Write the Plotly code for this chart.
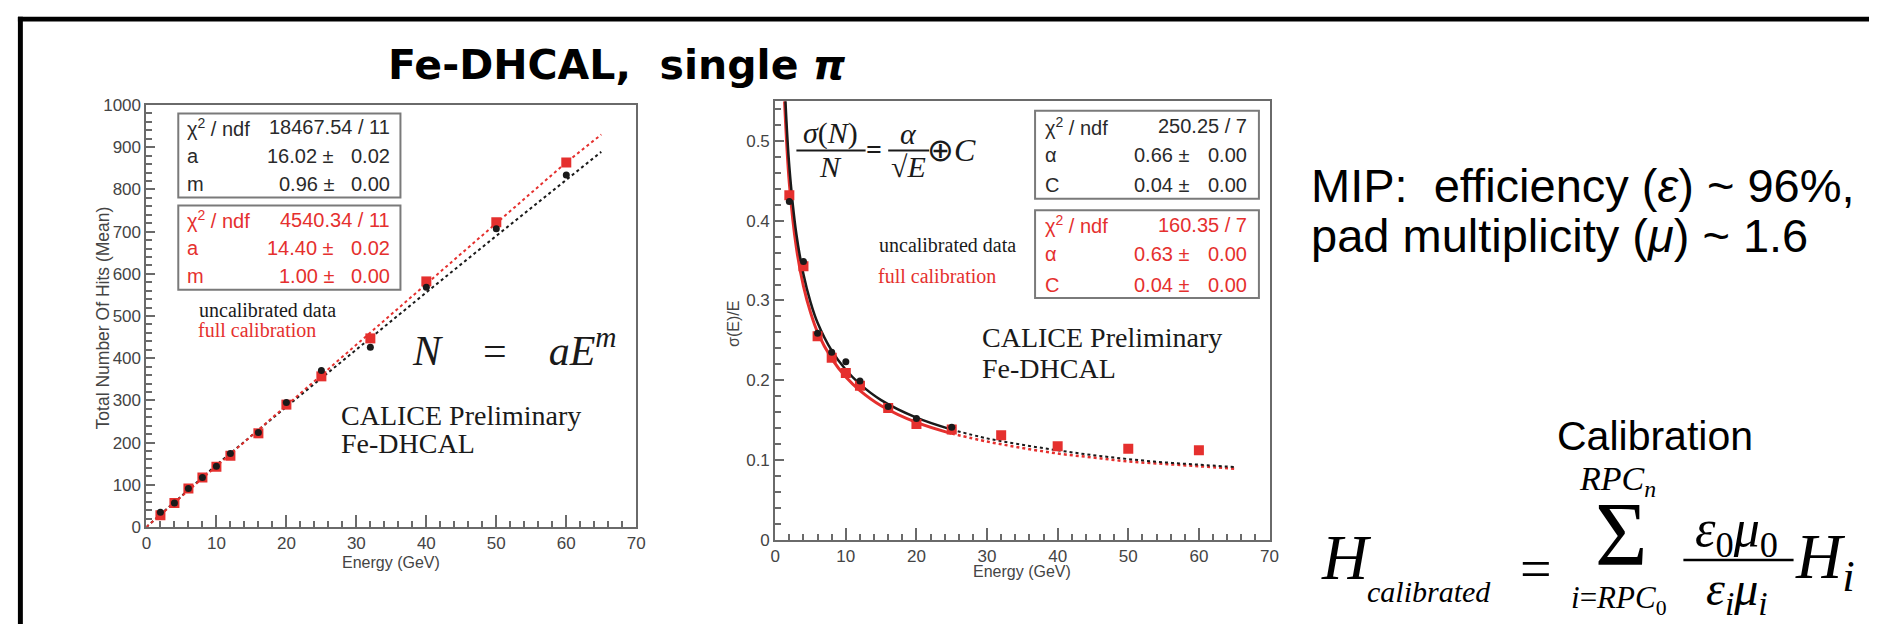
import plotly.graph_objects as go

# ---------------- data ----------------
energy_left = [2, 4, 6, 8, 10, 12, 16, 20, 25, 32, 40, 50, 60]
hits_uncal = [35, 57, 91, 117, 144, 174, 224, 295, 371, 426, 568, 707, 834]
hits_cal = [28, 57, 91, 117, 143, 169, 222, 290, 357, 447, 582, 722, 864]

fit_left_e = [0, 10, 20, 30, 40, 50, 60, 65]
fit_left_uncal = [0, 147, 285, 421, 556, 690, 823, 889]
fit_left_cal = [0, 144, 288, 432, 576, 720, 864, 930]

energy_res_uncal = [2, 4, 6, 8, 10, 12, 16, 20, 25]
res_uncal = [0.424, 0.349, 0.259, 0.235, 0.223, 0.199, 0.167, 0.152, 0.141]
energy_res_cal = [2, 4, 6, 8, 10, 12, 16, 20, 25, 32, 40, 50, 60]
res_cal = [0.432, 0.343, 0.255, 0.228, 0.209, 0.193, 0.165, 0.145, 0.138, 0.131, 0.117, 0.114, 0.112]

curve_uncal_e = [1.45, 2, 3, 4, 5, 6, 8, 10, 12, 15, 20, 25]
curve_uncal = [0.55, 0.468, 0.383, 0.333, 0.298, 0.272, 0.237, 0.213, 0.195, 0.175, 0.153, 0.138]
curve_cal_e = [1.32, 2, 3, 4, 5, 6, 8, 10, 12, 15, 20, 25]
curve_cal = [0.55, 0.447, 0.366, 0.318, 0.285, 0.260, 0.227, 0.204, 0.187, 0.168, 0.147, 0.133]
ext_e = [25, 30, 35, 40, 45, 50, 55, 60, 65]
ext_uncal = [0.138, 0.127, 0.119, 0.112, 0.106, 0.101, 0.097, 0.094, 0.091]
ext_cal = [0.133, 0.123, 0.115, 0.108, 0.103, 0.098, 0.095, 0.092, 0.089]

stats_left_uncal = [["χ<sup>2</sup> / ndf", "18467.54 / 11", ""], ["a", "16.02 ±", "0.02"], ["m", "0.96 ±", "0.00"]]
stats_left_cal = [["χ<sup>2</sup> / ndf", "4540.34 / 11", ""], ["a", "14.40 ±", "0.02"], ["m", "1.00 ±", "0.00"]]
stats_right_uncal = [["χ<sup>2</sup> / ndf", "250.25 / 7", ""], ["α", "0.66 ±", "0.00"], ["C", "0.04 ±", "0.00"]]
stats_right_cal = [["χ<sup>2</sup> / ndf", "160.35 / 7", ""], ["α", "0.63 ±", "0.00"], ["C", "0.04 ±", "0.00"]]

# ---------------- style ----------------
W, H = 1878, 634
SANS = "Liberation Sans, Arial, sans-serif"
SERIF = "Liberation Serif, Times New Roman, serif"
BLACK = "#1a1a1a"
RED = "#e5302e"
FRAME = "#6a6a6a"
LABEL = "#444444"


def px(x):
    return x / W


def py(y):
    return 1 - y / H


fig = go.Figure()

# left plot
fig.add_trace(go.Scatter(x=fit_left_e, y=fit_left_uncal, mode="lines",
                         line=dict(color=BLACK, width=2, dash="dot"), xaxis="x", yaxis="y"))
fig.add_trace(go.Scatter(x=fit_left_e, y=fit_left_cal, mode="lines",
                         line=dict(color=RED, width=2, dash="dot"), xaxis="x", yaxis="y"))
fig.add_trace(go.Scatter(x=energy_left, y=hits_cal, mode="markers",
                         marker=dict(symbol="square", size=10, color=RED), xaxis="x", yaxis="y"))
fig.add_trace(go.Scatter(x=energy_left, y=hits_uncal, mode="markers",
                         marker=dict(symbol="circle", size=7, color=BLACK), xaxis="x", yaxis="y"))

# right plot
fig.add_trace(go.Scatter(x=ext_e, y=ext_cal, mode="lines", line=dict(color=RED, width=2.5, dash="dot", shape="spline"),
                         xaxis="x2", yaxis="y2"))
fig.add_trace(go.Scatter(x=ext_e, y=ext_uncal, mode="lines", line=dict(color=BLACK, width=2, dash="dot", shape="spline"),
                         xaxis="x2", yaxis="y2"))
fig.add_trace(go.Scatter(x=curve_cal_e, y=curve_cal, mode="lines", line=dict(color=RED, width=3, shape="spline"),
                         xaxis="x2", yaxis="y2"))
fig.add_trace(go.Scatter(x=curve_uncal_e, y=curve_uncal, mode="lines", line=dict(color=BLACK, width=2.5, shape="spline"),
                         xaxis="x2", yaxis="y2"))
fig.add_trace(go.Scatter(x=energy_res_cal, y=res_cal, mode="markers",
                         marker=dict(symbol="square", size=10, color=RED), xaxis="x2", yaxis="y2"))
fig.add_trace(go.Scatter(x=energy_res_uncal, y=res_uncal, mode="markers",
                         marker=dict(symbol="circle", size=7, color=BLACK), xaxis="x2", yaxis="y2"))


def axis(domain, rng, dtick, minor_dtick, anchor, ticklen):
    return dict(domain=domain, range=rng, dtick=dtick, anchor=anchor,
                showgrid=False, zeroline=False, showline=True, mirror=True,
                linecolor=FRAME, linewidth=2, ticks="inside", ticklen=ticklen,
                tickwidth=2, tickcolor=FRAME,
                minor=dict(dtick=minor_dtick, ticks="inside", ticklen=6, tickwidth=1.5, tickcolor=FRAME),
                tickfont=dict(family=SANS, size=17, color=LABEL), fixedrange=True)


layout_axes = dict(
    xaxis=axis([px(142.5), px(636)], [0, 70], 10, 2, "y", 12),
    yaxis=axis([py(534), py(99)], [0, 1000], 100, 20, "x", 9),
    xaxis2=axis([px(776), px(1274)], [0, 70], 10, 2, "y2", 12),
    yaxis2=axis([py(547), py(95)], [0, 0.55], 0.1, 0.02, "x2", 9),
)

shapes = []
ann = []


def A(text, x, y, xref="paper", yref="paper", size=20, color=BLACK, family=SANS,
      xanchor="center", yanchor="middle", angle=0):
    ann.append(dict(text=text, x=x, y=y, xref=xref, yref=yref, showarrow=False,
                    font=dict(size=size, color=color, family=family),
                    xanchor=xanchor, yanchor=yanchor, textangle=angle, borderpad=0))


# slide frame
shapes.append(dict(type="rect", xref="paper", yref="paper", x0=px(13), x1=1, y0=py(13), y1=py(8),
                   fillcolor="black", line=dict(width=0)))
shapes.append(dict(type="rect", xref="paper", yref="paper", x0=px(13), x1=px(18), y0=0, y1=py(8),
                   fillcolor="black", line=dict(width=0)))

# title
A("<b>Fe-DHCAL,  single <i>π</i></b>", px(617), py(58), size=41, family="DejaVu Sans, Liberation Sans",
  color="black")


# stats boxes
def stats_box(rows, xr, yr, x0, x1, y0, y1, lab_x, pm_x, end_x, row_y, color):
    shapes.append(dict(type="rect", xref=xr, yref=yr, x0=x0, x1=x1, y0=y0, y1=y1,
                       fillcolor="white", line=dict(color="#7a7a7a", width=2), layer="above"))
    for (lab, v1, v2), yy in zip(rows, row_y):
        A(lab, lab_x, yy, xr, yr, size=20, color=color, xanchor="left")
        if v2:
            A(v1, pm_x, yy, xr, yr, size=20, color=color, xanchor="right")
            A(v2, end_x, yy, xr, yr, size=20, color=color, xanchor="right")
        else:
            A(v1, end_x, yy, xr, yr, size=20, color=color, xanchor="right")


stats_box(stats_left_uncal, "x", "y", 4.55, 36.3, 781, 980, 5.7, 26.9, 34.9, [947, 880, 814], "#2a2a2a")
stats_box(stats_left_cal, "x", "y", 4.55, 36.3, 562, 762, 5.7, 26.9, 34.9, [728, 662, 596], RED)
stats_box(stats_right_uncal, "x2", "y2", 36.8, 68.5, 0.4275, 0.538, 38.0, 58.7, 67.0,
          [0.5187, 0.4825, 0.445], "#2a2a2a")
stats_box(stats_right_cal, "x2", "y2", 36.8, 68.5, 0.303, 0.413, 38.0, 58.7, 67.0,
          [0.395, 0.358, 0.320], RED)

# left plot texts
A("uncalibrated data", 7.4, 515, "x", "y", size=20, family=SERIF, color=BLACK, xanchor="left")
A("full calibration", 7.2, 467, "x", "y", size=20, family=SERIF, color=RED, xanchor="left")
A("<i>N</i>&nbsp;&nbsp;&nbsp;&nbsp;=&nbsp;&nbsp;&nbsp;&nbsp;<i>aE</i><sup><i>m</i></sup>", 52.6, 425, "x", "y",
  size=42, family=SERIF, color=BLACK)
A("CALICE Preliminary", 27.6, 264, "x", "y", size=28, family=SERIF, color=BLACK, xanchor="left")
A("Fe-DHCAL", 27.6, 197, "x", "y", size=28, family=SERIF, color=BLACK, xanchor="left")
A("Energy (GeV)", 35, py(571), "x", "paper", size=16, color=LABEL)
A("Total Number Of Hits (Mean)", px(99), 495, "paper", "y", size=17.5, color=LABEL, angle=-90)

# right plot texts
A("uncalibrated data", 14.5, 0.370, "x2", "y2", size=20, family=SERIF, color=BLACK, xanchor="left")
A("full calibration", 14.4, 0.331, "x2", "y2", size=20, family=SERIF, color=RED, xanchor="left")
A("CALICE Preliminary", 29.1, 0.254, "x2", "y2", size=28, family=SERIF, color=BLACK, xanchor="left")
A("Fe-DHCAL", 29.1, 0.215, "x2", "y2", size=28, family=SERIF, color=BLACK, xanchor="left")
A("Energy (GeV)", 35, py(580), "x2", "paper", size=16, color=LABEL)
A("σ(E)/E", px(734), 0.27, "paper", "y2", size=16, color=LABEL, angle=-90)

# resolution formula
A("<i>σ</i>(<i>N</i>)", 7.9, 0.510, "x2", "y2", size=30, family=SERIF)
A("<i>N</i>", 7.9, 0.468, "x2", "y2", size=30, family=SERIF)
A("<b>=</b>", 14.0, 0.489, "x2", "y2", size=28, family=SERIF)
A("<i>α</i>", 18.9, 0.510, "x2", "y2", size=30, family=SERIF)
A("√<i>E</i>", 18.9, 0.468, "x2", "y2", size=30, family=SERIF)
A("⊕<i>C</i>", 25.0, 0.489, "x2", "y2", size=32, family=SERIF)
shapes.append(dict(type="line", xref="x2", yref="y2", x0=3.0, x1=12.8, y0=0.488, y1=0.488,
                   line=dict(color=BLACK, width=2)))
shapes.append(dict(type="line", xref="x2", yref="y2", x0=16.0, x1=21.8, y0=0.488, y1=0.488,
                   line=dict(color=BLACK, width=2)))

# right-hand slide text
A("MIP:  efficiency (<i>ε</i>) ~ 96%,", px(1315), py(182), size=47, color="black", xanchor="left")
A("pad multiplicity (<i>μ</i>) ~ 1.6", px(1315), py(233), size=47, color="black", xanchor="left")
A("Calibration", px(1662), py(440), size=41, color="black")

# calibration formula
A("<i>H</i>", px(1325), py(565), size=64, family=SERIF, color="black", xanchor="left")
A("<i>calibrated</i>", px(1371), py(600), size=30, family=SERIF, color="black", xanchor="left")
A("=", px(1543), py(577), size=56, family=SERIF, color="black")
A("Σ", px(1628), py(542), size=90, family=SERIF, color="black")
A("<i>RPC</i><sub><i>n</i></sub>", px(1625), py(487), size=34, family=SERIF, color="black")
A("<i>i</i>=<i>RPC</i><sub>0</sub>", px(1626), py(609), size=31, family=SERIF, color="black")
A("<i>ε</i><sub>0</sub><i>μ</i><sub>0</sub>", px(1745), py(540), size=52, family=SERIF, color="black")
A("<i>ε</i><sub><i>i</i></sub><i>μ</i><sub><i>i</i></sub>", px(1745), py(601), size=48, family=SERIF,
  color="black")
A("<i>H</i><sub><i>i</i></sub>", px(1802), py(569), size=64, family=SERIF, color="black", xanchor="left")
shapes.append(dict(type="line", xref="paper", yref="paper", x0=px(1691), x1=px(1802), y0=py(568), y1=py(568),
                   line=dict(color="black", width=2.5)))

fig.update_layout(
    width=W, height=H, autosize=False,
    margin=dict(l=0, r=0, t=0, b=0),
    paper_bgcolor="white", plot_bgcolor="white",
    showlegend=False,
    shapes=shapes, annotations=ann,
    **layout_axes,
)

fig.write_html("out.html")
